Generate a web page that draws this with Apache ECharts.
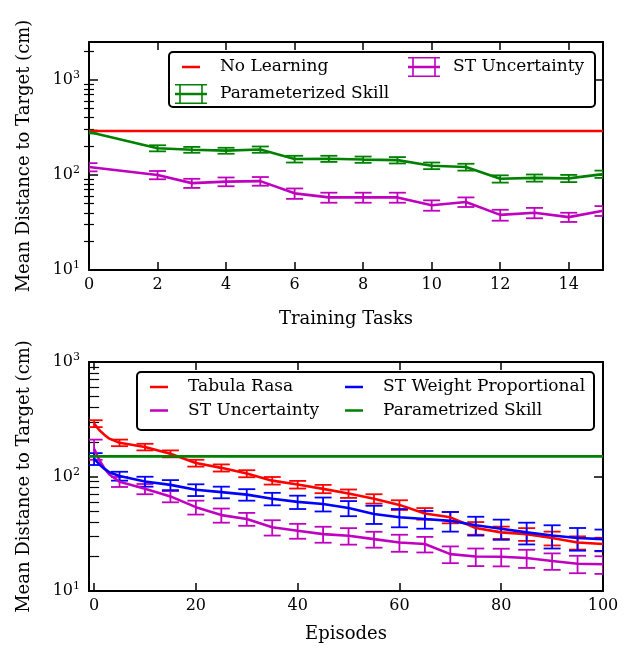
<!DOCTYPE html>
<html><head><meta charset="utf-8">
<script src="https://cdn.jsdelivr.net/npm/echarts@6/dist/echarts.min.js"></script>
<style>html,body{margin:0;padding:0;background:#fff}#c{width:624px;height:648px}</style>
</head><body><div id="c"></div>
<script>
// ---------------- data ----------------
// Top panel: Training Tasks
const tasks = [0, 2, 3, 4, 5, 6, 7, 8, 9, 10, 11, 12, 13, 14, 15];
const noLearningX = [0, 15];
const noLearningY = [290, 290];
const paramSkill = [283, 191, 184, 180, 185, 147, 148, 145, 143, 125, 121, 91, 93, 92, 102];
const paramSkillErr = [10, 14, 13, 13, 14, 12, 11, 11, 11, 10, 10, 8, 8, 8, 9];
const stUncTasks = [121, 100, 82, 85, 86, 64, 58, 58, 58, 48, 52, 38, 40, 36, 42];
const stUncTasksErr = [12, 10, 9, 9, 9, 8, 7, 7, 7, 6, 6, 5, 5, 4, 5];

// Bottom panel: Episodes
const episodes = [0, 1, 2, 3, 5, 10, 15, 20, 25, 30, 35, 40, 45, 50, 55, 60, 65, 70, 75, 80, 85, 90, 95, 100];
const tabulaRasa = [290, 255, 232, 214, 197, 181, 158, 131, 119, 106, 92, 85, 78, 71, 64, 56.5, 47.5, 44, 35.5, 32.5, 31.4, 29, 26.5, 25.7];
const tabulaRasaErr = [20, null, null, null, 13, 12, 11, 9, 8.5, 7.5, 7, 6.5, 6.5, 6, 6, 5.5, 5.5, 5, 4.5, 4, 4, 4, 3.5, 3.5];
const stWeight = [143, 128, 117, 109, 101, 90.5, 84.5, 76.5, 73, 69.5, 64, 60, 57.5, 53, 47, 44, 42.5, 41, 37.5, 35, 32.5, 30.5, 29, 28.4];
const stWeightErr = [17, null, null, null, 9, 9, 8.5, 9, 8.5, 8, 8, 8, 8, 8, 8.5, 8, 7.5, 8, 7, 7, 7, 7, 6.5, 6];
const stUncEp = [175, 140, 118, 104, 90, 78, 67, 54, 46, 42.6, 36, 33.6, 31.4, 30.4, 28.4, 26.5, 25.7, 21, 20, 19.9, 19.4, 18.3, 17.3, 17.1];
const stUncEpErr = [35, null, null, null, 9, 8, 7.5, 7.5, 6.5, 5.5, 5.5, 5, 5, 5, 4.5, 4.5, 4, 3.5, 3.5, 3.5, 3.5, 3, 3, 3];
const paramSkillEpX = [-1, 100];
const paramSkillEpY = [150, 150];

// Tick labels
const taskTicks = [0, 2, 4, 6, 8, 10, 12, 14];
const episodeTicks = [0, 20, 40, 60, 80, 100];
const logMajorTicks = [10, 100, 1000];
const logMinorTicksTop = [20, 30, 40, 50, 60, 70, 80, 90, 200, 300, 400, 500, 600, 700, 800, 900, 2000];
const logMinorTicksBottom = [20, 30, 40, 50, 60, 70, 80, 90, 200, 300, 400, 500, 600, 700, 800, 900];

// ---------------- style ----------------
const FONT = 'DejaVu Serif';
const RED = '#ff0000', GREEN = '#008000', MAG = '#bf00bf', BLUE = '#0000ff';
const ICON_LINE = 'path://M0,0h0.01v0.01h-0.01z M40,20h0.01v0.01h-0.01z M7,8.8h18v2.4h-18z';
const ICON_EB = 'path://M0,0h32v1.6h-32z M0,18.4h32v1.6h-32z M0,8.8h32v2.4h-32z M4.2,0h1.6v20h-1.6z M26.2,0h1.6v20h-1.6z M40,20h0.01v0.01h-0.01z';

function pairs(xs, ys) { return xs.map((x, i) => [x, ys[i]]); }
function errData(xs, ys, es) {
  const out = [];
  xs.forEach((x, i) => { if (es[i] != null) out.push([x, ys[i] - es[i], ys[i] + es[i]]); });
  return out;
}
function lineSeries(name, data, color, xi, yi) {
  return { type: 'line', name, data, xAxisIndex: xi, yAxisIndex: yi, symbol: 'none',
    lineStyle: { color, width: 2.6 }, itemStyle: { color }, clip: true, z: 2 };
}
function errSeries(name, data, color, xi, yi) {
  return { type: 'custom', name, data, xAxisIndex: xi, yAxisIndex: yi, clip: true, z: 2,
    encode: { x: 0, y: [1, 2] },
    renderItem(params, api) {
      const x = api.value(0);
      const a = api.coord([x, api.value(1)]);
      const b = api.coord([x, api.value(2)]);
      const hw = 8.5;
      const st = { stroke: color, lineWidth: 1.8 };
      return { type: 'group', children: [
        { type: 'line', shape: { x1: a[0], y1: a[1], x2: b[0], y2: b[1] }, style: st },
        { type: 'line', shape: { x1: a[0] - hw, y1: a[1], x2: a[0] + hw, y2: a[1] }, style: st },
        { type: 'line', shape: { x1: b[0] - hw, y1: b[1], x2: b[0] + hw, y2: b[1] }, style: st }
      ]};
    }
  };
}
const supFmt = v => '{b|10}{s|' + Math.round(Math.log10(v)) + '}';
const tickRich = {
  b: { fontFamily: FONT, fontSize: 16, color: '#000', lineHeight: 20 },
  s: { fontFamily: FONT, fontSize: 11, color: '#000', verticalAlign: 'top', lineHeight: 11 }
};
function xAxes(gridIndex, min, max, ticks, name, nameGap) {
  return [
    { type: 'value', gridIndex, min, max, position: 'bottom', name, nameLocation: 'middle', nameGap,
      nameTextStyle: { fontFamily: FONT, fontSize: 18, color: '#000' },
      axisLine: { show: true, onZero: false, lineStyle: { color: '#000', width: 2 } },
      axisTick: { show: true, inside: true, length: 8, customValues: ticks, lineStyle: { color: '#000', width: 1.5 } },
      axisLabel: { show: true, customValues: ticks, margin: 7, fontFamily: FONT, fontSize: 16, color: '#000' },
      splitLine: { show: false } },
    { type: 'value', gridIndex, min, max, position: 'top',
      axisLine: { show: true, onZero: false, lineStyle: { color: '#000', width: 2 } },
      axisTick: { show: true, inside: true, length: 8, customValues: ticks, lineStyle: { color: '#000', width: 1.5 } },
      axisLabel: { show: false }, splitLine: { show: false } }
  ];
}
function yAxes(gridIndex, max, minor) {
  const base = { type: 'log', logBase: 10, gridIndex, min: 10, max, splitLine: { show: false } };
  return [
    Object.assign({}, base, { position: 'left', name: 'Mean Distance to Target (cm)', nameLocation: 'middle', nameGap: 56,
      nameTextStyle: { fontFamily: FONT, fontSize: 18, color: '#000' },
      axisLine: { show: true, onZero: false, lineStyle: { color: '#000', width: 2 } },
      axisTick: { show: true, inside: true, length: 9, customValues: logMajorTicks, lineStyle: { color: '#000', width: 1.5 } },
      axisLabel: { show: true, customValues: logMajorTicks, margin: 9, formatter: supFmt, rich: tickRich } }),
    Object.assign({}, base, { position: 'left',
      axisLine: { show: false },
      axisTick: { show: true, inside: true, length: 5, customValues: minor, lineStyle: { color: '#000', width: 1.2 } },
      axisLabel: { show: false } }),
    Object.assign({}, base, { position: 'right',
      axisLine: { show: true, onZero: false, lineStyle: { color: '#000', width: 2 } },
      axisTick: { show: true, inside: true, length: 9, customValues: logMajorTicks, lineStyle: { color: '#000', width: 1.5 } },
      axisLabel: { show: false } }),
    Object.assign({}, base, { position: 'right',
      axisLine: { show: false },
      axisTick: { show: true, inside: true, length: 5, customValues: minor, lineStyle: { color: '#000', width: 1.2 } },
      axisLabel: { show: false } })
  ];
}
const legendText = { fontFamily: FONT, fontSize: 17, color: '#000' };
function legend(left, top, gap, data) {
  return { orient: 'vertical', left, top, padding: 0, itemWidth: 40, itemHeight: 20, itemGap: gap,
    selectedMode: false, textStyle: legendText, itemStyle: { borderWidth: 0 }, data };
}

const option = {
  animation: false,
  backgroundColor: '#fff',
  grid: [
    { left: 89, right: 21, top: 42, height: 228 },
    { left: 89, right: 21, top: 362, height: 229 }
  ],
  xAxis: [].concat(xAxes(0, 0, 15, taskTicks, 'Training Tasks', 40), xAxes(1, -1, 100, episodeTicks, 'Episodes', 34)),
  yAxis: [].concat(yAxes(0, 2500, logMinorTicksTop), yAxes(1, 1000, logMinorTicksBottom)),
  graphic: [
    { type: 'rect', shape: { x: 169, y: 52, width: 426, height: 55, r: 4 }, style: { fill: '#fff', stroke: '#000', lineWidth: 2 }, z: 3 },
    { type: 'rect', shape: { x: 137, y: 372, width: 457, height: 58, r: 4 }, style: { fill: '#fff', stroke: '#000', lineWidth: 2 }, z: 3 }
  ],
  legend: [
    legend(175, 57, 7, [{ name: 'No Learning', icon: ICON_LINE }, { name: 'Parameterized Skill', icon: ICON_EB }]),
    legend(408, 57, 7, [{ name: 'ST Uncertainty', icon: ICON_EB }]),
    legend(143, 377, 3.5, [{ name: 'Tabula Rasa', icon: ICON_LINE }, { name: 'ST Uncertainty', icon: ICON_LINE }]),
    legend(338, 377, 3.5, [{ name: 'ST Weight Proportional', icon: ICON_LINE }, { name: 'Parametrized Skill', icon: ICON_LINE }])
  ],
  series: [
    lineSeries('No Learning', pairs(noLearningX, noLearningY), RED, 0, 0),
    lineSeries('Parameterized Skill', pairs(tasks, paramSkill), GREEN, 0, 0),
    errSeries('Parameterized Skill err', errData(tasks, paramSkill, paramSkillErr), GREEN, 0, 0),
    lineSeries('ST Uncertainty', pairs(tasks, stUncTasks), MAG, 0, 0),
    errSeries('ST Uncertainty err', errData(tasks, stUncTasks, stUncTasksErr), MAG, 0, 0),

    lineSeries('Tabula Rasa', pairs(episodes, tabulaRasa), RED, 2, 4),
    errSeries('Tabula Rasa err', errData(episodes, tabulaRasa, tabulaRasaErr), RED, 2, 4),
    lineSeries('ST Uncertainty', pairs(episodes, stUncEp), MAG, 2, 4),
    errSeries('ST Uncertainty err2', errData(episodes, stUncEp, stUncEpErr), MAG, 2, 4),
    lineSeries('ST Weight Proportional', pairs(episodes, stWeight), BLUE, 2, 4),
    errSeries('ST Weight err', errData(episodes, stWeight, stWeightErr), BLUE, 2, 4),
    lineSeries('Parametrized Skill', pairs(paramSkillEpX, paramSkillEpY), GREEN, 2, 4)
  ]
};
const chart = echarts.init(document.getElementById('c'), null, { renderer: 'canvas' });
chart.setOption(option);
</script>
</body></html>
